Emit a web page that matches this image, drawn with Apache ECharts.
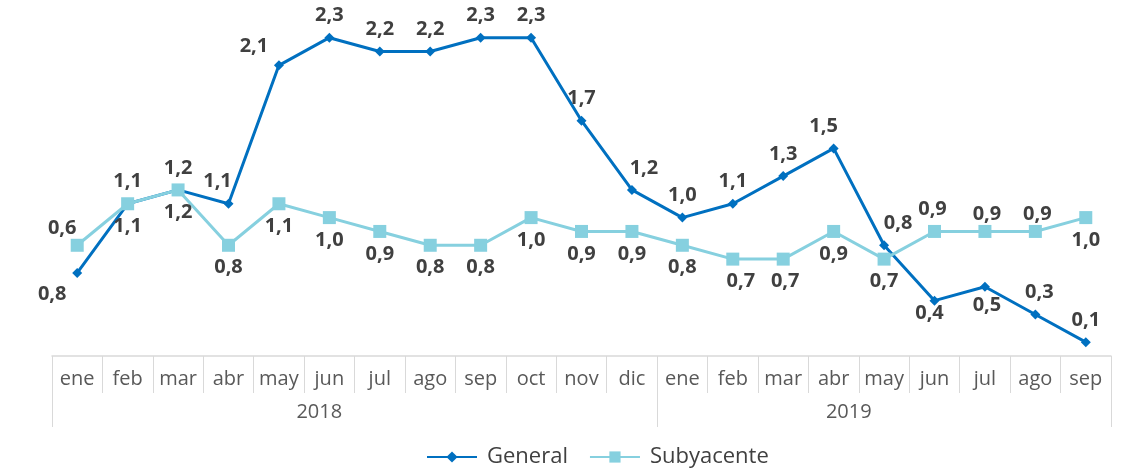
<!DOCTYPE html>
<html>
<head>
<meta charset="utf-8">
<script src="https://cdn.jsdelivr.net/npm/echarts@6/dist/echarts.min.js"></script>
<style>
  html, body { margin: 0; padding: 0; background: #fff; }
  #chart { width: 1129px; height: 474px; }
</style>
</head>
<body>
<div id="chart"></div>
<script>
// datos
const meses = ['ene', 'feb', 'mar', 'abr', 'may', 'jun', 'jul', 'ago', 'sep', 'oct', 'nov', 'dic',
  'ene', 'feb', 'mar', 'abr', 'may', 'jun', 'jul', 'ago', 'sep'];
const anios = ['2018', '2019'];
const mesesPorAnio = [12, 9];
const general = [0.6, 1.1, 1.2, 1.1, 2.1, 2.3, 2.2, 2.2, 2.3, 2.3, 1.7, 1.2,
  1.0, 1.1, 1.3, 1.5, 0.8, 0.4, 0.5, 0.3, 0.1];
const subyacente = [0.8, 1.1, 1.2, 0.8, 1.1, 1.0, 0.9, 0.8, 0.8, 1.0, 0.9, 0.9,
  0.8, 0.7, 0.7, 0.9, 0.7, 0.9, 0.9, 0.9, 1.0];

// posición de las etiquetas (solo estilo)
const posGeneral = ['top', 'top', 'top', 'top', 'top', 'top', 'top', 'top', 'top', 'top', 'top', 'top',
  'top', 'top', 'top', 'top', 'top', 'bottom', 'bottom', 'top', 'top'];
const dxGeneral = [-15, 0, 0, -11, -25, 0, 0, 0, 0, 0, 0, 12, 0, 0, 0, -10, 14, -5, 2, 4, 0];
const dyGeneral = [-23, 0, 0, 0, 3, 0, 0, 0, 0, 0, 0, 0, 0, 0, 0, 0, 0, -9, -4, 0, 0];
const posSub = ['bottom', 'bottom', 'bottom', 'bottom', 'bottom', 'bottom', 'bottom', 'bottom', 'bottom',
  'bottom', 'bottom', 'bottom', 'bottom', 'bottom', 'bottom', 'bottom', 'bottom', 'top', 'top', 'top', 'bottom'];
const dxSub = [-25, 0, 0, 0, 0, 0, 0, 0, 0, 0, 0, 0, 0, 8, 2, 0, 0, -2, 2, 2, 0];
const dySub = [27, 0, 0, 0, 0, 0, 0, 0, 0, 0, 0, 0, 0, 0, 0, 0, 0, 0, 5, 5, 0];

const FONT = '"Open Sans", "DejaVu Sans", sans-serif';

function conEtiquetas(valores, pos, dx, dy) {
  return valores.map((v, i) => ({
    value: v,
    label: { position: pos[i], offset: [dx[i], dy[i]] }
  }));
}

// límites de cada año y centro de la etiqueta
const limites = [0];
mesesPorAnio.forEach(n => limites.push(limites[limites.length - 1] + n));
const centrosAnio = mesesPorAnio.map((n, i) => limites[i] + n / 2 - 0.7);

const chart = echarts.init(document.getElementById('chart'));

const option = {
  animation: false,
  textStyle: { fontFamily: FONT },
  grid: { left: 52, right: 18, top: 10, bottom: 118 },
  xAxis: [
    {
      type: 'category',
      data: meses,
      boundaryGap: true,
      axisLine: { lineStyle: { color: '#d9d9d9', width: 1.5 } },
      axisTick: { show: true, interval: 0, length: 37, lineStyle: { color: '#d9d9d9' } },
      axisLabel: { interval: 0, color: '#595959', fontSize: 20, margin: 13, fontFamily: FONT }
    },
    {
      type: 'value',
      min: 0,
      max: meses.length,
      position: 'bottom',
      axisLine: { show: false },
      splitLine: { show: false },
      axisTick: { show: true, customValues: limites, length: 71, lineStyle: { color: '#d9d9d9' } },
      axisLabel: {
        customValues: centrosAnio,
        color: '#595959', fontSize: 20, margin: 46, fontFamily: FONT,
        formatter: v => anios[centrosAnio.findIndex(c => Math.abs(c - v) < 1e-6)] || ''
      }
    }
  ],
  yAxis: { type: 'value', min: 0, max: 2.5, show: false },
  legend: {
    bottom: 1,
    left: 421,
    itemWidth: 50,
    itemHeight: 14,
    itemGap: 21,
    textStyle: { color: '#404040', fontSize: 22, fontFamily: FONT, padding: [0, 0, 0, 5] },
    data: ['General', 'Subyacente']
  },
  series: [
    {
      name: 'General',
      type: 'line',
      data: conEtiquetas(general, posGeneral, dxGeneral, dyGeneral),
      symbol: 'diamond',
      symbolSize: 10,
      lineStyle: { color: '#0070c0', width: 3 },
      itemStyle: { color: '#0070c0' },
      label: {
        show: true, distance: 7, fontSize: 20, fontWeight: 'bold', color: '#404040', fontFamily: FONT,
        formatter: p => p.value.toFixed(1).replace('.', ',')
      }
    },
    {
      name: 'Subyacente',
      type: 'line',
      data: conEtiquetas(subyacente, posSub, dxSub, dySub),
      symbol: 'rect',
      symbolSize: 13,
      lineStyle: { color: '#86d0df', width: 3 },
      itemStyle: { color: '#86d0df' },
      label: {
        show: true, distance: 6, fontSize: 20, fontWeight: 'bold', color: '#404040', fontFamily: FONT,
        formatter: p => p.value.toFixed(1).replace('.', ',')
      }
    }
  ]
};

chart.setOption(option);
window.addEventListener('resize', () => chart.resize());
</script>
</body>
</html>
